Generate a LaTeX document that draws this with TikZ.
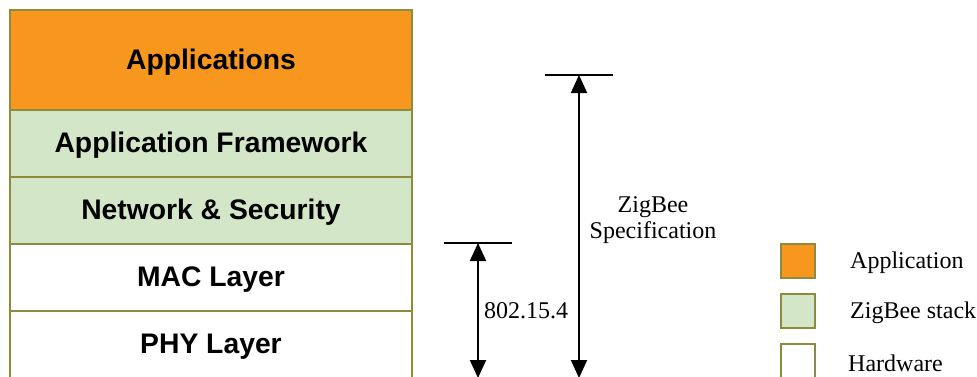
\documentclass[tikz,border=0pt]{standalone}
\usepackage{fontspec}
\setmainfont{Liberation Serif}
\setsansfont{Liberation Sans}
\usetikzlibrary{arrows.meta}
\definecolor{apporange}{RGB}{247,151,30}
\definecolor{stackgreen}{RGB}{211,230,200}
\definecolor{olive}{RGB}{140,140,60}
\tikzset{
  layer/.style={draw=olive, line width=2pt, minimum width=402pt, inner sep=0pt, anchor=north west,
    font=\sffamily\bfseries\fontsize{28.3}{34}\selectfont, text=black},
  ltext/.style={font=\sffamily\bfseries\fontsize{28.3}{34}\selectfont, text=black, inner sep=0pt},
  legbox/.style={draw=olive, line width=2pt, minimum width=34pt, minimum height=34pt, inner sep=0pt, anchor=north west},
  serif/.style={font=\rmfamily\fontsize{24}{26}\selectfont, text=black, inner sep=0pt},
  dimarrow/.style={line width=2pt, {Triangle[length=18pt,width=16pt]}-{Triangle[length=18pt,width=16pt]}},
  bar/.style={line width=1.8pt}
}
\begin{document}
\begin{tikzpicture}[x=1pt,y=-1pt]
\useasboundingbox (0,0) rectangle (977,376);
% stack
\node[layer, fill=white, minimum height=68pt] (phy) at (9,310) {};
\node[layer, fill=white, minimum height=67pt] (mac) at (9,243) {};
\node[layer, fill=stackgreen, minimum height=67pt] (net) at (9,176) {};
\node[layer, fill=stackgreen, minimum height=67pt] (fw) at (9,109) {};
\node[layer, fill=apporange, minimum height=100pt] (app) at (9,9) {};
\node[ltext] (tphy) at ([yshift=-2pt]phy.center) {PHY Layer};
\node[ltext] (tmac) at ([yshift=-2pt]mac.center) {MAC Layer};
\node[ltext] (tnet) at ([yshift=-2pt]net.center) {Network \& Security};
\node[ltext] (tfw) at ([yshift=-2pt]fw.center) {Application Framework};
\node[ltext] (tapp) at ([yshift=-2pt]app.center) {Applications};
% 802.15.4
\coordinate (b1l) at (444,243);
\coordinate (b1r) at (512,243);
\coordinate (a1t) at (478,243);
\coordinate (a1b) at (478,378);
\draw[bar] (b1l) -- (b1r);
\draw[dimarrow] (a1t) -- (a1b);
\node[serif, anchor=west] (l802) at (484,311) {802.15.4};
% ZigBee
\coordinate (b2l) at (545,75);
\coordinate (b2r) at (613,75);
\coordinate (a2t) at (579,75);
\coordinate (a2b) at (579,378);
\draw[bar] (b2l) -- (b2r);
\draw[dimarrow] (a2t) -- (a2b);
\node[serif, align=center] (lzb) at (653,220) {ZigBee\\[-0.5pt]Specification};
% legend
\node[legbox, fill=apporange] (k1) at (780,243) {};
\node[legbox, fill=stackgreen] (k2) at (780,293) {};
\node[legbox, fill=white] (k3) at (780,343) {};
\node[serif, anchor=west] (t1) at (850,263) {Application};
\node[serif, anchor=west] (t2) at (850,313) {ZigBee stack};
\node[serif, anchor=west] (t3) at (848,363) {Hardware};
\end{tikzpicture}
\end{document}
